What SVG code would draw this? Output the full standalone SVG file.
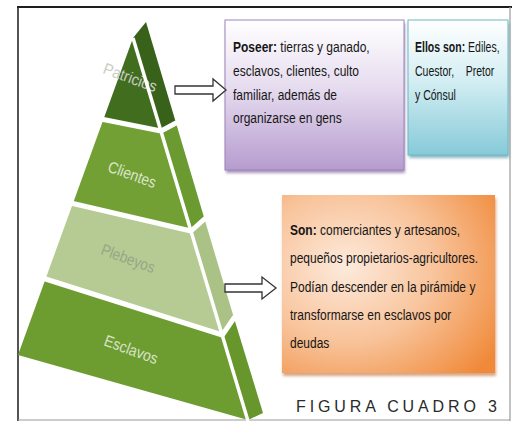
<svg xmlns="http://www.w3.org/2000/svg" width="520" height="421" viewBox="0 0 520 421">
<defs>
<linearGradient id="gPurple" x1="0" y1="0" x2="0" y2="1">
<stop offset="0" stop-color="#ffffff"/>
<stop offset="0.45" stop-color="#e6dcef"/>
<stop offset="1" stop-color="#b69ccf"/>
</linearGradient>
<linearGradient id="gCyan" x1="0" y1="0" x2="0" y2="1">
<stop offset="0" stop-color="#ffffff"/>
<stop offset="0.45" stop-color="#d3eef3"/>
<stop offset="1" stop-color="#86cad8"/>
</linearGradient>
<radialGradient id="gOrange" cx="0.3" cy="0.4" r="0.85">
<stop offset="0" stop-color="#fdeadc"/>
<stop offset="0.5" stop-color="#f8c39a"/>
<stop offset="1" stop-color="#f08a3a"/>
</radialGradient>
<filter id="sh" x="-10%" y="-10%" width="130%" height="130%">
<feGaussianBlur stdDeviation="1.5"/>
</filter>
<style>
.box{font-family:"Liberation Sans",Arial,sans-serif;font-size:15px;fill:#161616}
.bold{font-weight:bold}
.lbl{font-family:"Liberation Sans",Arial,sans-serif;font-size:16px}
.sep{stroke:#ffffff;stroke-width:5;stroke-linecap:round;stroke-linejoin:round;fill:none}
.arrow{fill:#ffffff;stroke:#333333;stroke-width:1.3;stroke-linejoin:miter}
</style>
</defs>
<rect width="520" height="421" fill="#ffffff"/>
<g id="frame">
<line x1="17" y1="7" x2="512" y2="7" stroke="#1e1e1e" stroke-width="2.2"/>
<line x1="18" y1="7" x2="18" y2="421" stroke="#2a2a2a" stroke-width="1.6"/>
<line x1="510" y1="7" x2="510" y2="421" stroke="#9a9a9a" stroke-width="1.2"/>
<line x1="18" y1="420" x2="510" y2="420" stroke="#9a9a9a" stroke-width="1.2"/>
</g>
<g id="patricios">
<polygon points="133,38 103.4,119.5 161,131" fill="#416d1f"/>
<polygon points="146,22 176,123 161,131 133,38" fill="#38621a"/>
<text class="lbl" x="130" y="83" fill="#c9ccc4" text-anchor="middle" textLength="56" lengthAdjust="spacingAndGlyphs" transform="rotate(20 130 78)">Patricios</text>
</g>
<g id="clientes">
<polygon points="103.4,119.5 72.9,203.5 191,231 161,131" fill="#72a035"/>
<polygon points="161,131 176,123 204.5,219 191,231" fill="#6a9a30"/>
<text class="lbl" x="132" y="180" fill="#dbe5cc" text-anchor="middle" textLength="50" lengthAdjust="spacingAndGlyphs" transform="rotate(20 132 175)">Clientes</text>
</g>
<g id="plebeyos">
<polygon points="72.9,203.5 45.5,279 222.4,335 191,231" fill="#b5cb93"/>
<polygon points="191,231 204.5,219 234,318 222.4,335" fill="#aac286"/>
<text class="lbl" x="128" y="264" fill="#98a588" text-anchor="middle" textLength="56" lengthAdjust="spacingAndGlyphs" transform="rotate(20 128 259)">Plebeyos</text>
</g>
<g id="esclavos">
<polygon points="45.5,279 18,355 248,420 222.4,335" fill="#6d9c31"/>
<polygon points="222.4,335 234,318 263,413 248,420" fill="#67962d"/>
<text class="lbl" x="131" y="355" fill="#d7e3c6" text-anchor="middle" textLength="56" lengthAdjust="spacingAndGlyphs" transform="rotate(20 131 350)">Esclavos</text>
</g>
<g id="pyramid-lines">
<polyline class="sep" points="103.4,119.5 161,131 176,123"/>
<polyline class="sep" points="72.9,203.5 191,231 204.5,219"/>
<polyline class="sep" points="45.5,279 222.4,335 234,318"/>
<line x1="133" y1="38" x2="248" y2="421" stroke="#ffffff" stroke-width="3.5"/>
</g>
<g id="box-patricios">
<rect x="226" y="23" width="179" height="150" fill="#6e4f8e" opacity="0.6" filter="url(#sh)"/>
<rect x="225" y="20" width="179" height="150" fill="url(#gPurple)" stroke="#9c84ba" stroke-width="1"/>
<g transform="scale(0.8,1)">
<text class="box" x="291.25" y="52"><tspan class="bold">Poseer:</tspan> tierras y ganado,</text>
<text class="box" x="291.25" y="76">esclavos, clientes, culto</text>
<text class="box" x="291.25" y="100">familiar, además de</text>
<text class="box" x="291.25" y="123">organizarse en gens</text>
</g>
</g>
<g id="box-cargos">
<rect x="409" y="23" width="100" height="135" fill="#3f8a9a" opacity="0.6" filter="url(#sh)"/>
<rect x="408" y="20" width="100" height="135" fill="url(#gCyan)" stroke="#6db6c6" stroke-width="1"/>
<g transform="scale(0.7,1)">
<text class="box" x="592.86" y="52"><tspan class="bold">Ellos son:</tspan> Ediles,</text>
<text class="box" x="592.86" y="76" xml:space="preserve">Cuestor,    Pretor</text>
<text class="box" x="592.86" y="100">y Cónsul</text>
</g>
</g>
<g id="box-plebeyos">
<rect x="283" y="198" width="213" height="178" fill="#b65a1a" opacity="0.55" filter="url(#sh)"/>
<rect x="282" y="195" width="213" height="178" fill="url(#gOrange)"/>
<g transform="scale(0.8,1)">
<text class="box" x="362.5" y="235"><tspan class="bold">Son:</tspan> comerciantes y artesanos,</text>
<text class="box" x="362.5" y="263">pequeños propietarios-agricultores.</text>
<text class="box" x="362.5" y="292">Podían descender en la pirámide y</text>
<text class="box" x="362.5" y="320">transformarse en esclavos por</text>
<text class="box" x="362.5" y="348">deudas</text>
</g>
</g>
<g id="caption">
<text x="296" y="412" font-family="'Liberation Sans',Arial,sans-serif" font-size="16" fill="#2a2a2a" textLength="201" lengthAdjust="spacing">FIGURA CUADRO 3</text>
</g>
<g id="connectors">
<polygon class="arrow" points="175,86 213,86 213,79 226,90 213,101 213,94 175,94"/>
<polygon class="arrow" points="225,284 262,284 262,277 276,288 262,299 262,292 225,292"/>
</g>
</svg>
